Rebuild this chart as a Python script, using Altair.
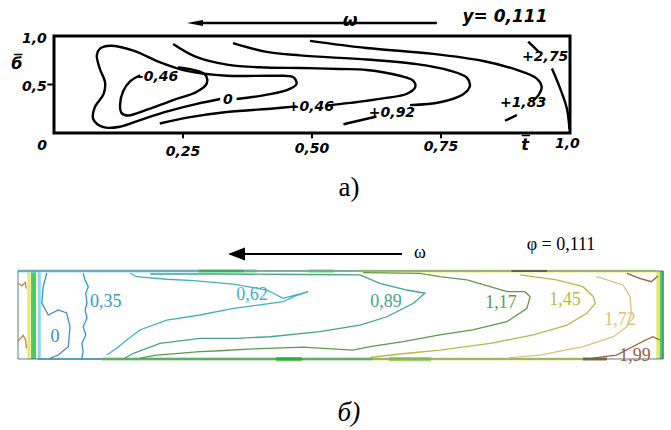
import altair as alt
import pandas as pd

# ---------------- panel a: hand-drawn isolines, t = x/L, b = y/B ----------------
a_m046_t = [0.240, 0.270, 0.293, 0.296, 0.277, 0.231, 0.180, 0.144, 0.131, 0.128, 0.134, 0.147, 0.167]
a_m046_b = [0.675, 0.650, 0.600, 0.510, 0.425, 0.340, 0.240, 0.180, 0.205, 0.290, 0.430, 0.530, 0.595]

a_0_t = [0.354, 0.419, 0.457, 0.470, 0.464, 0.425, 0.335, 0.257, 0.205, 0.154, 0.109, 0.089,
         0.083, 0.089, 0.099, 0.096, 0.079, 0.076, 0.096, 0.128, 0.167, 0.218, 0.277, 0.322]
a_0_b = [0.350, 0.400, 0.455, 0.505, 0.575, 0.590, 0.590, 0.640, 0.730, 0.850, 0.900, 0.870,
         0.800, 0.660, 0.520, 0.400, 0.265, 0.145, 0.060, 0.065, 0.133, 0.220, 0.300, 0.350]

a_046_lo_t = [0.205, 0.264, 0.335, 0.425, 0.470]
a_046_lo_b = [0.098, 0.163, 0.216, 0.253, 0.274]
a_046_hi_t = [0.525, 0.574, 0.638, 0.684, 0.700, 0.696, 0.670, 0.606, 0.554, 0.477, 0.412, 0.335, 0.273, 0.231]
a_046_hi_b = [0.280, 0.310, 0.357, 0.405, 0.473, 0.540, 0.590, 0.650, 0.660, 0.670, 0.675, 0.705, 0.790, 0.917]

a_092_lo_t = [0.561, 0.625]
a_092_lo_b = [0.090, 0.170]
a_092_hi_t = [0.690, 0.748, 0.793, 0.806, 0.800, 0.767, 0.703, 0.606, 0.477, 0.412, 0.347]
a_092_hi_b = [0.287, 0.317, 0.400, 0.486, 0.570, 0.643, 0.710, 0.757, 0.800, 0.837, 0.927]

a_183_hi_t = [0.496, 0.606, 0.735, 0.832, 0.897, 0.935, 0.945, 0.939, 0.929]
a_183_hi_b = [0.950, 0.876, 0.816, 0.742, 0.650, 0.563, 0.477, 0.390, 0.339]
a_183_lo_t = [0.897, 0.874]
a_183_lo_b = [0.186, 0.126]

a_275_hi_t = [0.919, 0.939]
a_275_hi_b = [0.943, 0.838]
a_275_lo_t = [0.965, 0.981, 0.994, 0.999]
a_275_lo_b = [0.664, 0.457, 0.250, 0.040]

a_label_text = ["-0,46", "0", "+0,46", "+0,92", "+1,83", "+2,75"]
a_label_t = [0.2016, 0.337, 0.498, 0.655, 0.909, 0.952]
a_label_b = [0.582, 0.340, 0.268, 0.211, 0.309, 0.787]

a_xtick_values = [0.25, 0.50, 0.75]
a_xlabel_text = ["0", "0,25", "0,50", "0,75", "1,0"]
a_xlabel_t = [-0.023, 0.25, 0.50, 0.75, 0.995]
a_xlabel_b = [-0.13, -0.20, -0.17, -0.14, -0.11]
a_ylabel_text = ["1,0", "0,5"]
a_ylabel_b = [0.97, 0.47]

# ---------------- panel b: computed isolines ----------------
b_levels = ["0", "0,35", "0,62", "0,89", "1,17", "1,45", "1,72", "1,99"]
b_colors = ["#3f8cc6", "#3399cc", "#3cb2c8", "#45a489", "#5f9a4c", "#b3bb45", "#d8c27c", "#9c5c3c"]

b_0_t = [0.0445, 0.039, 0.037, 0.047, 0.0625, 0.0755, 0.0806, 0.078, 0.0625, 0.050]
b_0_b = [0.977, 0.820, 0.636, 0.500, 0.557, 0.523, 0.367, 0.140, 0.045, 0.011]

b_035_t = [0.101, 0.104, 0.109, 0.105, 0.107, 0.104, 0.107, 0.101, 0.105, 0.099, 0.101, 0.099]
b_035_b = [0.974, 0.898, 0.822, 0.747, 0.633, 0.557, 0.4625, 0.367, 0.273, 0.178, 0.083, 0.008]

b_062_t = [0.174, 0.184, 0.2305, 0.272, 0.334, 0.386, 0.411, 0.450, 0.427, 0.411, 0.375, 0.334,
           0.282, 0.2305, 0.189, 0.1685, 0.153, 0.1375]
b_062_b = [0.974, 0.935, 0.906, 0.890, 0.852, 0.784, 0.690, 0.765, 0.708, 0.651, 0.614, 0.576,
           0.500, 0.443, 0.330, 0.216, 0.122, 0.045]

b_089_t = [0.205, 0.313, 0.437, 0.530, 0.561, 0.603, 0.631, 0.613, 0.572, 0.530, 0.468, 0.391,
           0.339, 0.282, 0.220, 0.179, 0.166]
b_089_b = [0.966, 0.966, 0.960, 0.955, 0.860, 0.784, 0.747, 0.633, 0.480, 0.386, 0.310, 0.253,
           0.235, 0.235, 0.178, 0.065, 0.011]

b_117_t = [0.535, 0.623, 0.654, 0.696, 0.732, 0.758, 0.786, 0.794, 0.789, 0.758, 0.705, 0.654,
           0.597, 0.546, 0.519, 0.442, 0.364, 0.313, 0.282, 0.215, 0.189]
b_117_b = [0.981, 0.974, 0.935, 0.898, 0.822, 0.765, 0.765, 0.708, 0.576, 0.424, 0.330, 0.273,
           0.197, 0.140, 0.102, 0.136, 0.114, 0.094, 0.083, 0.045, 0.011]

b_145_t = [0.778, 0.835, 0.876, 0.892, 0.895, 0.882, 0.851, 0.799, 0.732, 0.654, 0.592, 0.546]
b_145_b = [0.955, 0.898, 0.822, 0.708, 0.633, 0.519, 0.386, 0.273, 0.178, 0.102, 0.057, 0.017]

b_172_t = [0.897, 0.938, 0.949, 0.951, 0.944, 0.923, 0.876, 0.809, 0.758]
b_172_b = [0.935, 0.841, 0.708, 0.519, 0.367, 0.253, 0.140, 0.045, 0.011]

b_199_hi_t = [0.944, 0.964, 0.982, 0.992]
b_199_hi_b = [0.974, 0.917, 0.878, 0.943]
b_199_lo_t = [0.891, 0.928, 0.964, 0.984, 0.995]
b_199_lo_b = [0.011, 0.045, 0.182, 0.253, 0.216]

# wavy traces next to the left wall
b_wall1_t = [0.000, 0.006, 0.011, 0.013]
b_wall1_b = [0.86, 0.83, 0.87, 0.80]
b_wall2_t = [0.000, 0.008, 0.012, 0.013]
b_wall2_b = [0.20, 0.27, 0.21, 0.12]

b_label_t = [0.0574, 0.136, 0.3628, 0.5705, 0.7488, 0.848, 0.9333, 0.9566]
b_label_b = [0.250, 0.648, 0.727, 0.648, 0.636, 0.670, 0.443, 0.034]

# colored bands of the solution along the walls: t0, t1, b0, b1, colour, width
band_t0 = [0.017, 0.024, 0.033, 0.00, 0.28, 0.45, 0.35, 0.53, 0.765, 0.03, 0.13, 0.40, 0.575, 0.55, 0.876, 0.992, 0.998]
band_t1 = [0.017, 0.024, 0.033, 0.35, 0.37, 0.49, 0.53, 0.99, 0.820, 0.13, 0.55, 0.44, 0.640, 0.88, 0.913, 0.992, 0.998]
band_b0 = [0.0, 0.0, 0.0, 1.0, 1.0, 1.0, 1.0, 1.0, 1.0, 0.0, 0.0, 0.0, 0.0, 0.0, 0.0, 0.0, 0.0]
band_b1 = [1.0, 1.0, 1.0, 1.0, 1.0, 1.0, 1.0, 1.0, 1.0, 0.0, 0.0, 0.0, 0.0, 0.0, 0.0, 1.0, 1.0]
band_col = ["#e6e35a", "#3cc84a", "#7fd3ee", "#8fdcf2", "#52d252", "#52d252", "#a8e8a8", "#e4ea68",
            "#7a5a2a", "#60c8e8", "#7ad86a", "#3ccc3c", "#3ccc3c", "#e8e870", "#7a6a2a", "#e4e460", "#40c050"]
band_w = [3, 5, 3, 3, 3, 3, 2, 3, 2, 2, 3, 4, 4, 3, 3, 3, 4]


def segments_frame(segs):
    rows = []
    for name, ts, bs, col in segs:
        for i, (t, b) in enumerate(zip(ts, bs)):
            rows.append({"seg": name, "i": i, "t": t, "b": b, "col": col})
    return pd.DataFrame(rows)


HAND = dict(font="DejaVu Sans", fontWeight="bold", fontStyle="italic")
SERIF = "Liberation Serif"

# ---------- panel a ----------
xa = alt.Scale(domain=[-0.10465, 1.19574], nice=False, zero=False)
ya = alt.Scale(domain=[-0.84536, 1.37113], nice=False, zero=False)
Xa = alt.X("t:Q", scale=xa, axis=None)
Ya = alt.Y("b:Q", scale=ya, axis=None)

a_lines = segments_frame([
    ("m046", a_m046_t, a_m046_b, "black"),
    ("z", a_0_t, a_0_b, "black"),
    ("p046l", a_046_lo_t, a_046_lo_b, "black"),
    ("p046h", a_046_hi_t, a_046_hi_b, "black"),
    ("p092l", a_092_lo_t, a_092_lo_b, "black"),
    ("p092h", a_092_hi_t, a_092_hi_b, "black"),
    ("p183h", a_183_hi_t, a_183_hi_b, "black"),
    ("p183l", a_183_lo_t, a_183_lo_b, "black"),
    ("p275h", a_275_hi_t, a_275_hi_b, "black"),
    ("p275l", a_275_lo_t, a_275_lo_b, "black"),
])

box = pd.DataFrame({"t": [0.0], "t2": [1.0], "b": [0.0], "b2": [1.0]})

a_box = alt.Chart(box).mark_rect(filled=False, stroke="black", strokeWidth=3).encode(
    x=Xa, x2="t2:Q", y=Ya, y2="b2:Q")
a_iso = alt.Chart(a_lines).mark_line(color="black", strokeWidth=2.4, interpolate="catmull-rom").encode(
    x=Xa, y=Ya, detail="seg:N", order="i:Q")
a_lab = alt.Chart(pd.DataFrame({"txt": a_label_text, "t": a_label_t, "b": a_label_b})).mark_text(
    fontSize=14, **HAND).encode(x=Xa, y=Ya, text="txt:N")

a_xt = alt.Chart(pd.DataFrame({"t": a_xtick_values, "b": [0.0] * 3, "b2": [-0.055] * 3})).mark_rule(
    color="black", strokeWidth=2).encode(x=Xa, y=Ya, y2="b2:Q")
a_yt = alt.Chart(pd.DataFrame({"t": [0.0], "t2": [-0.013], "b": [0.5]})).mark_rule(
    color="black", strokeWidth=2).encode(x=Xa, x2="t2:Q", y=Ya)
a_xl = alt.Chart(pd.DataFrame({"txt": a_xlabel_text, "t": a_xlabel_t, "b": a_xlabel_b})).mark_text(
    fontSize=14, **HAND).encode(x=Xa, y=Ya, text="txt:N")
a_yl = alt.Chart(pd.DataFrame({"txt": a_ylabel_text, "t": [-0.014] * 2, "b": a_ylabel_b})).mark_text(
    fontSize=14, align="right", **HAND).encode(x=Xa, y=Ya, text="txt:N")
a_titles = alt.Chart(pd.DataFrame({"txt": ["б\u0305", "t\u0305"], "t": [-0.072, 0.913], "b": [0.711, -0.124]})).mark_text(
    fontSize=16, **HAND).encode(x=Xa, y=Ya, text="txt:N")

a_shaft = alt.Chart(pd.DataFrame({"t": [0.287], "t2": [0.742], "b": [1.134]})).mark_rule(
    color="black", strokeWidth=2.5).encode(x=Xa, x2="t2:Q", y=Ya)
a_head = alt.Chart(pd.DataFrame({"t": [0.2733], "b": [1.134]})).mark_point(
    shape="M -1 0 L 1 -0.375 L 1 0.375 Z", filled=True, size=256, color="black", opacity=1).encode(x=Xa, y=Ya)
a_top = alt.Chart(pd.DataFrame({"txt": ["ω", "y= 0,111"], "t": [0.574, 0.874], "b": [1.150, 1.196]})).mark_text(
    fontSize=17, **HAND).encode(x=Xa, y=Ya, text="txt:N")
a_cap = alt.Chart(pd.DataFrame({"txt": ["a)"], "t": [0.5717], "b": [-0.567]})).mark_text(
    fontSize=27, font=SERIF).encode(x=Xa, y=Ya, text="txt:N")

panel_a = alt.layer(a_iso, a_box, a_lab, a_xt, a_yt, a_xl, a_yl, a_titles,
                    a_shaft, a_head, a_top, a_cap).properties(width=671, height=215)

# ---------- panel b ----------
xb = alt.Scale(domain=[-0.027907, 1.012403], nice=False, zero=False)
yb = alt.Scale(domain=[-0.80682, 1.63636], nice=False, zero=False)
Xb = alt.X("t:Q", scale=xb, axis=None)
Yb = alt.Y("b:Q", scale=yb, axis=None)

b_lines = segments_frame([
    ("wall1", b_wall1_t, b_wall1_b, "#c8843e"),
    ("wall2", b_wall2_t, b_wall2_b, "#c8843e"),
    ("l0", b_0_t, b_0_b, b_colors[0]),
    ("l035", b_035_t, b_035_b, b_colors[1]),
    ("l062", b_062_t, b_062_b, b_colors[2]),
    ("l089", b_089_t, b_089_b, b_colors[3]),
    ("l117", b_117_t, b_117_b, b_colors[4]),
    ("l145", b_145_t, b_145_b, b_colors[5]),
    ("l172", b_172_t, b_172_b, b_colors[6]),
    ("l199h", b_199_hi_t, b_199_hi_b, b_colors[7]),
    ("l199l", b_199_lo_t, b_199_lo_b, b_colors[7]),
])

bands = pd.DataFrame({"t": band_t0, "t2": band_t1, "b": band_b0, "b2": band_b1,
                      "col": band_col, "w": band_w})

b_bands = alt.Chart(bands).mark_rule(opacity=0.9).encode(
    x=Xb, x2="t2:Q", y=Yb, y2="b2:Q",
    color=alt.Color("col:N", scale=None), strokeWidth=alt.StrokeWidth("w:Q", scale=None))
b_box = alt.Chart(box).mark_rect(filled=False, stroke="#2b5d7a", strokeWidth=1, opacity=0.8).encode(
    x=Xb, x2="t2:Q", y=Yb, y2="b2:Q")
b_iso = alt.Chart(b_lines).mark_line(strokeWidth=1.3).encode(
    x=Xb, y=Yb, detail="seg:N", order="i:Q", color=alt.Color("col:N", scale=None))
b_lab = alt.Chart(pd.DataFrame({"txt": b_levels, "t": b_label_t, "b": b_label_b, "col": b_colors})).mark_text(
    fontSize=18, font=SERIF).encode(x=Xb, y=Yb, text="txt:N", color=alt.Color("col:N", scale=None))

b_shaft = alt.Chart(pd.DataFrame({"t": [0.345], "t2": [0.5953], "b": [1.193]})).mark_rule(
    color="black", strokeWidth=2).encode(x=Xb, x2="t2:Q", y=Yb)
b_head = alt.Chart(pd.DataFrame({"t": [0.3388], "b": [1.193]})).mark_point(
    shape="M -1 0 L 1 -0.76 L 1 0.76 Z", filled=True, size=289, color="black", opacity=1).encode(x=Xb, y=Yb)
b_top = alt.Chart(pd.DataFrame({"txt": ["ω", "φ = 0,111"], "t": [0.6233, 0.8419], "b": [1.2045, 1.295]})).mark_text(
    fontSize=18, font=SERIF).encode(x=Xb, y=Yb, text="txt:N")
b_cap = alt.Chart(pd.DataFrame({"txt": ["б)"], "t": [0.513], "b": [-0.614]})).mark_text(
    fontSize=27, font=SERIF, fontStyle="italic").encode(x=Xb, y=Yb, text="txt:N")

panel_b = alt.layer(b_bands, b_box, b_iso, b_lab, b_shaft, b_head, b_top, b_cap).properties(
    width=671, height=215)

chart = alt.vconcat(panel_a, panel_b, spacing=0).properties(padding=0).configure_view(stroke=None)
chart.save("out.html", embed_options={"renderer": "svg", "actions": False})
